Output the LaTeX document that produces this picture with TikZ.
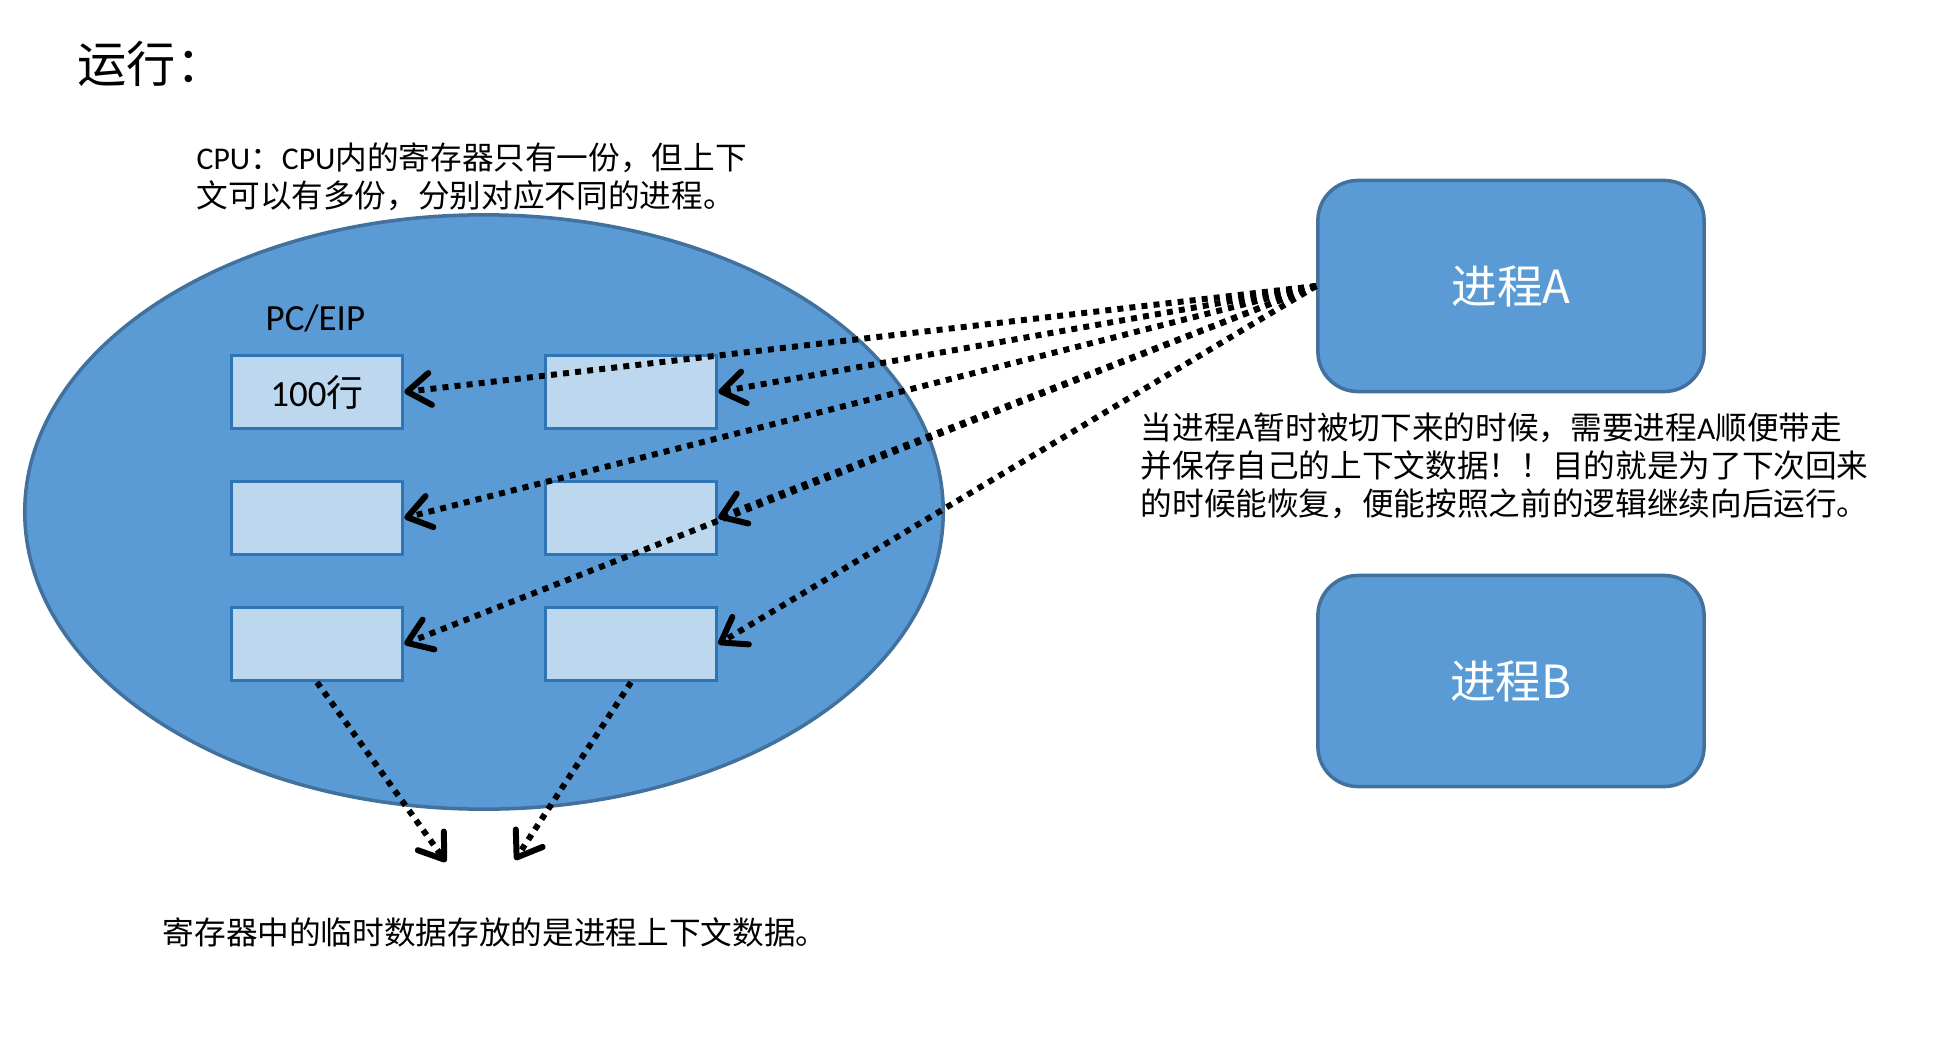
\documentclass[tikz,border=0pt]{standalone}
\usepackage{fontspec}
\setmainfont{Noto Sans CJK SC}
\newfontfamily\lat{Carlito}
\usetikzlibrary{shapes.geometric,arrows.meta}
\definecolor{fillblue}{HTML}{5B9BD5}
\definecolor{lineblue}{HTML}{41719C}
\definecolor{regfill}{HTML}{BDD7EE}
\definecolor{regline}{HTML}{2E75B6}

\begin{document}
\begin{tikzpicture}[x=0.01cm,y=-0.01cm,
  reg/.style={draw=regline,line width=1pt,fill=regfill,minimum width=1.71cm,minimum height=0.73cm,inner sep=0},
  proc/.style={draw=lineblue,line width=1pt,fill=fillblue,rounded corners=0.4cm,minimum width=3.86cm,minimum height=2.11cm,text=white,font=\fontsize{13}{15}\selectfont},
  txt/.style={inner sep=0,align=left,anchor=west,font=\fontsize{9}{10.7}\selectfont},
  save/.style={line width=1.7pt,dash pattern=on 1.7pt off 1.75pt,-{Straight Barb[length=2.3mm,width=3.2mm,round]}}]
\useasboundingbox (0,0) rectangle (1959,1045);

% title
\node[txt,font=\fontsize{14}{16}\selectfont] (title) at (77,64) {运行：};

% cpu
\node[ellipse,draw=lineblue,line width=1pt,fill=fillblue,minimum width=9.18cm,minimum height=5.94cm] (cpu) at (484,512) {};
\node[txt] (cpunote) at (196,177) {{\lat CPU}：{\lat CPU}内的寄存器只有一份，但上下\\文可以有多份，分别对应不同的进程。};
\node[txt,font=\lat\fontsize{10.5}{12}\selectfont] (pceip) at (265,318) {PC/EIP};

% registers
\node[reg,font=\fontsize{10.5}{12}\selectfont] (r11) at (317,392) {{\lat 100}行};
\node[reg] (r12) at (631,392) {};
\node[reg] (r21) at (317,518) {};
\node[reg] (r22) at (631,518) {};
\node[reg] (r31) at (317,644) {};
\node[reg] (r32) at (631,644) {};

% processes
\node[proc] (pA) at (1511,286) {进程A};
\node[proc] (pB) at (1511,681) {进程B};
\node[txt,font=\fontsize{9}{10.8}\selectfont] (note) at (1140,466) {当进程{\lat A}暂时被切下来的时候，需要进程{\lat A}顺便带走\\并保存自己的上下文数据！！目的就是为了下次回来\\的时候能恢复，便能按照之前的逻辑继续向后运行。};

% save context
\foreach \r in {r11,r12,r21,r22,r31,r32} \draw[save] (pA.west) -- (\r.east);

\coordinate (d1) at (446,862);
\coordinate (d2) at (515,860);
\draw[save] (r31.south) -- (d1);
\draw[save] (r32.south) -- (d2);

\node[txt] (data) at (162,932) {寄存器中的临时数据存放的是进程上下文数据。};

\end{tikzpicture}
\end{document}
